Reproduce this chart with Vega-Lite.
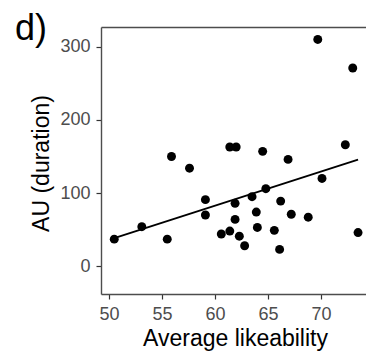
{
  "$schema": "https://vega.github.io/schema/vega-lite/v6.json",
  "autosize": "none",
  "padding": {"left": 101, "top": 27, "right": 0, "bottom": 58},
  "width": 265,
  "height": 267,
  "title": {
    "text": "d)",
    "anchor": "start",
    "frame": "group",
    "orient": "top",
    "offset": 0,
    "dx": -86,
    "dy": 49,
    "baseline": "alphabetic",
    "fontSize": 36,
    "fontWeight": "normal",
    "font": "Liberation Sans",
    "color": "black"
  },
  "data": {
    "values": [
      {"lik": 50.5, "au": 37}, {"lik": 53.1, "au": 54}, {"lik": 55.5, "au": 37},
      {"lik": 55.9, "au": 150}, {"lik": 57.6, "au": 134}, {"lik": 59.1, "au": 91},
      {"lik": 59.1, "au": 70}, {"lik": 60.6, "au": 44}, {"lik": 61.4, "au": 48},
      {"lik": 61.4, "au": 163}, {"lik": 62.0, "au": 163}, {"lik": 61.9, "au": 86},
      {"lik": 61.9, "au": 64}, {"lik": 62.3, "au": 41}, {"lik": 62.8, "au": 28},
      {"lik": 63.5, "au": 95}, {"lik": 63.9, "au": 74}, {"lik": 64.0, "au": 53},
      {"lik": 64.5, "au": 157}, {"lik": 64.8, "au": 106}, {"lik": 65.6, "au": 49},
      {"lik": 66.2, "au": 89}, {"lik": 66.1, "au": 23}, {"lik": 66.9, "au": 146},
      {"lik": 67.2, "au": 71}, {"lik": 68.8, "au": 67}, {"lik": 69.7, "au": 310},
      {"lik": 70.1, "au": 120}, {"lik": 72.3, "au": 166}, {"lik": 73.0, "au": 271},
      {"lik": 73.5, "au": 46}
    ]
  },
  "layer": [
    {
      "mark": {"type": "circle", "size": 80, "color": "black", "opacity": 1},
      "encoding": {
        "x": {
          "field": "lik", "type": "quantitative",
          "scale": {"domain": [49.25, 74.25], "nice": false, "zero": false},
          "axis": {
            "orient": "bottom",
            "title": "Average likeability",
            "values": [50, 55, 60, 65, 70],
            "titleX": 134, "titleY": 51, "titleBaseline": "alphabetic"
          }
        },
        "y": {
          "field": "au", "type": "quantitative",
          "scale": {"domain": [-38, 327], "nice": false, "zero": false},
          "axis": {
            "title": "AU (duration)",
            "values": [0, 100, 200, 300],
            "titleX": -52.5, "titleY": 136, "titleBaseline": "alphabetic"
          }
        }
      }
    },
    {
      "transform": [{"regression": "au", "on": "lik"}],
      "mark": {"type": "line", "color": "black", "strokeWidth": 1.8},
      "encoding": {
        "x": {
          "field": "lik", "type": "quantitative",
          "scale": {"domain": [49.25, 74.25], "nice": false, "zero": false},
          "axis": {"orient": "top", "labels": false, "ticks": false, "title": null, "domain": true, "grid": false}
        },
        "y": {
          "field": "au", "type": "quantitative",
          "scale": {"domain": [-38, 327], "nice": false, "zero": false},
          "axis": {
            "title": "AU (duration)",
            "values": [0, 100, 200, 300],
            "titleX": -52.5, "titleY": 136, "titleBaseline": "alphabetic"
          }
        }
      }
    }
  ],
  "resolve": {"axis": {"x": "independent"}},
  "config": {
    "view": {"stroke": null},
    "axis": {
      "grid": false,
      "domain": true,
      "domainColor": "#4d4d4d",
      "domainWidth": 1.4,
      "ticks": true,
      "tickColor": "#333333",
      "tickWidth": 1.2,
      "tickSize": 5,
      "labelFont": "Liberation Sans",
      "labelFontSize": 18,
      "labelColor": "#4D4D4D",
      "labelPadding": 6,
      "titleFont": "Liberation Sans",
      "titleFontSize": 23,
      "titleFontWeight": "normal",
      "titleColor": "black"
    }
  }
}
